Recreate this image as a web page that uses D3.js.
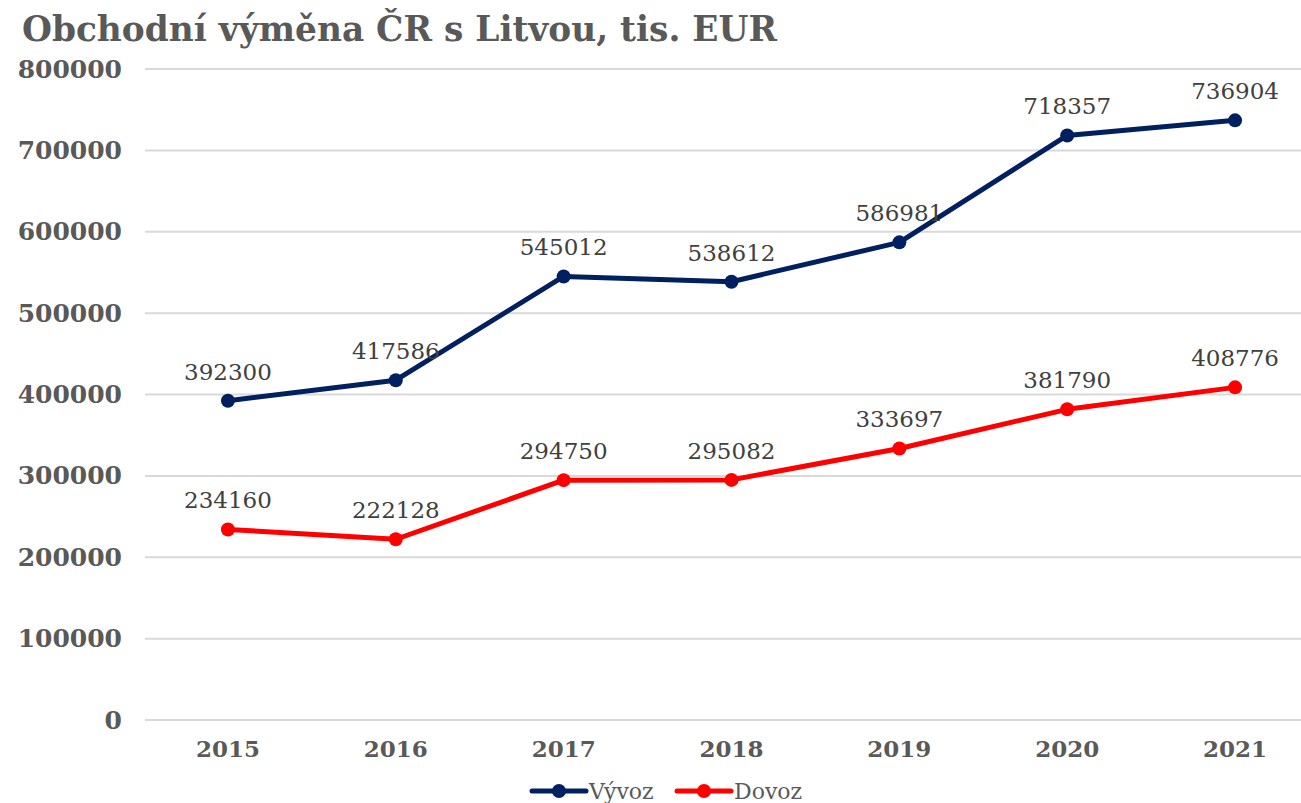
<!DOCTYPE html>
<html>
<head>
<meta charset="utf-8">
<script src="https://cdn.jsdelivr.net/npm/d3@7"></script>
<style>
  body { margin: 0; background: #fff; }
  svg { display: block; font-family: "DejaVu Serif", "Liberation Serif", serif; }
</style>
</head>
<body>
<script>
// chart data
const YEARS = ['2015', '2016', '2017', '2018', '2019', '2020', '2021'];
const VYVOZ = [392300, 417586, 545012, 538612, 586981, 718357, 736904];
const DOVOZ = [234160, 222128, 294750, 295082, 333697, 381790, 408776];
const Y_TICKS = [0, 100000, 200000, 300000, 400000, 500000, 600000, 700000, 800000];

const WIDTH = 1301;
const HEIGHT = 803;
const TEXT_COLOR = '#595959';
const COLOR_VYVOZ = '#002060';
const COLOR_DOVOZ = '#ff0000';

const svg = d3.select('body')
  .append('svg')
    .attr('width', WIDTH)
    .attr('height', HEIGHT);

// title
svg.append('text')
    .attr('x', 22)
    .attr('y', 41)
    .attr('font-size', 36)
    .attr('font-weight', 'bold')
    .attr('font-family', '"DejaVu Serif", serif')
    .attr('fill', TEXT_COLOR)
    .attr('textLength', 755)
    .attr('lengthAdjust', 'spacingAndGlyphs')
    .text('Obchodní výměna ČR s Litvou, tis. EUR');

// scales
const xScale = d3.scaleBand()
    .domain(YEARS)
    .range([144, 1319]);

const yScale = d3.scaleLinear()
    .domain([0, 800000])
    .range([720, 69]);

const xc = d => xScale(d) + xScale.bandwidth() / 2;

// gridlines
svg.append('g')
  .selectAll('line')
  .data(Y_TICKS)
  .enter()
  .append('line')
    .attr('x1', 145)
    .attr('x2', WIDTH)
    .attr('y1', d => yScale(d))
    .attr('y2', d => yScale(d))
    .attr('stroke', '#d9d9d9')
    .attr('stroke-width', 2);

// y axis labels
const yAxis = d3.axisLeft(yScale)
    .tickValues(Y_TICKS)
    .tickSize(0)
    .tickPadding(0)
    .tickFormat(d3.format('d'));

svg.append('g')
    .attr('transform', 'translate(122, 0)')
    .call(yAxis)
    .call(g => g.select('.domain').remove())
    .call(g => g.selectAll('text')
      .attr('font-size', 25)
      .attr('font-weight', 'bold')
      .attr('font-family', '"DejaVu Serif", serif')
      .attr('fill', TEXT_COLOR));

// x axis labels
const xAxis = d3.axisBottom(xScale)
    .tickSize(0)
    .tickPadding(0);

svg.append('g')
    .attr('transform', 'translate(0, 741)')
    .call(xAxis)
    .call(g => g.select('.domain').remove())
    .call(g => g.selectAll('text')
      .attr('font-size', 23)
      .attr('font-weight', 'bold')
      .attr('font-family', '"DejaVu Serif", serif')
      .attr('fill', TEXT_COLOR));

// series lines, markers and labels
const drawSeries = (values, color) => {
  const data = YEARS.map((y, i) => ({ year: y, value: values[i] }));
  const line = d3.line()
      .x(d => xc(d.year))
      .y(d => yScale(d.value));

  const g = svg.append('g');
  g.append('path')
      .datum(data)
      .attr('d', line)
      .attr('fill', 'none')
      .attr('stroke', color)
      .attr('stroke-width', 5)
      .attr('stroke-linejoin', 'round');

  g.selectAll('circle')
    .data(data)
    .enter()
    .append('circle')
      .attr('cx', d => xc(d.year))
      .attr('cy', d => yScale(d.value))
      .attr('r', 7)
      .attr('fill', color);

  g.selectAll('text')
    .data(data)
    .enter()
    .append('text')
      .attr('x', d => xc(d.year))
      .attr('y', d => yScale(d.value) - 21)
      .attr('text-anchor', 'middle')
      .attr('font-size', 23)
      .attr('font-family', '"DejaVu Serif", serif')
      .attr('fill', '#404040')
      .text(d => d.value);
};

drawSeries(VYVOZ, COLOR_VYVOZ);
drawSeries(DOVOZ, COLOR_DOVOZ);

// legend
const legend = [
  { name: 'Vývoz', color: COLOR_VYVOZ, x: 530 },
  { name: 'Dovoz', color: COLOR_DOVOZ, x: 675 }
];

const lg = svg.append('g')
  .selectAll('g')
  .data(legend)
  .enter()
  .append('g')
    .attr('transform', d => `translate(${d.x}, 791)`);

lg.append('line')
    .attr('x1', 2)
    .attr('x2', 56)
    .attr('stroke', d => d.color)
    .attr('stroke-width', 5)
    .attr('stroke-linecap', 'round');

lg.append('circle')
    .attr('cx', 29)
    .attr('r', 7)
    .attr('fill', d => d.color);

lg.append('text')
    .attr('x', 59)
    .attr('y', 8)
    .attr('font-size', 22)
    .attr('font-family', '"DejaVu Serif", serif')
    .attr('fill', TEXT_COLOR)
    .text(d => d.name);
</script>
</body>
</html>
